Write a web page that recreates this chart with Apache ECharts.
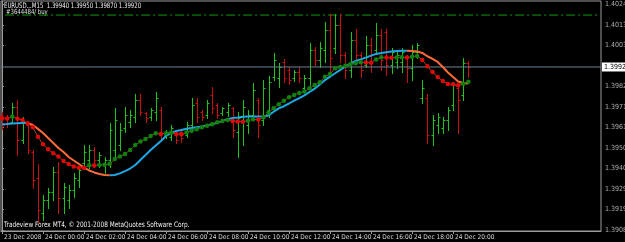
<!DOCTYPE html>
<html>
<head>
<meta charset="utf-8">
<script src="https://cdn.jsdelivr.net/npm/echarts@6/dist/echarts.min.js"></script>
<style>
html,body{margin:0;padding:0;background:#000;}
#chart{width:625px;height:242px;}
</style>
</head>
<body>
<div id="chart"></div>
<script>
// ---- data (EURUSD M15, 23 Dec 2008 22:00 .. 24 Dec 20:45) ----
const barOpen = [
1.39674,1.39659,1.39638,1.39715,1.39546,1.39623,1.39485,1.39352,1.39172,1.39239,
1.39280,1.39382,1.39249,1.39239,1.39290,1.39341,1.39428,1.39444,1.39495,1.39444,
1.39418,1.39444,1.39495,1.39521,1.39608,1.39638,1.39664,1.39751,1.39684,1.39664,
1.39690,1.39700,1.39572,1.39562,1.39582,1.39587,1.39572,1.39623,1.39736,1.39690,
1.39674,1.39777,1.39725,1.39684,1.39690,1.39710,1.39587,1.39649,1.39623,1.39674,
1.39751,1.39649,1.39700,1.39869,1.39864,1.39946,1.39905,1.39864,1.39894,1.39812,
1.39864,1.40007,1.39956,1.40007,1.40109,1.40017,1.40135,1.39981,1.39905,1.40058,
1.39981,1.39930,1.40033,1.40007,1.40084,1.40099,1.39930,1.39946,1.39946,1.39971,
1.39915,1.39997,1.39761,1.39761,1.39572,1.39623,1.39608,1.39649,1.39725,1.39812,
1.39777,1.39940];
const barHigh = [
1.39690,1.39674,1.39736,1.39751,1.39664,1.39638,1.39495,1.39423,1.39265,1.39300,
1.39408,1.39434,1.39326,1.39316,1.39377,1.39408,1.39521,1.39521,1.39510,1.39485,
1.39459,1.39633,1.39710,1.39633,1.39715,1.39700,1.39782,1.39782,1.39690,1.39710,
1.39792,1.39715,1.39597,1.39623,1.39587,1.39597,1.39638,1.39761,1.39761,1.39700,
1.39751,1.39818,1.39736,1.39715,1.39736,1.39715,1.39690,1.39751,1.39700,1.39838,
1.39761,1.39853,1.39874,1.39992,1.39940,1.39961,1.39920,1.39905,1.39920,1.39879,
1.40043,1.40022,1.40048,1.40150,1.40191,1.40191,1.40191,1.39997,1.40099,1.40115,
1.39997,1.40079,1.40068,1.40145,1.40115,1.40115,1.40017,1.39997,1.40017,1.39981,
1.40033,1.40043,1.39853,1.39782,1.39674,1.39684,1.39664,1.39715,1.39843,1.39828,
1.39966,1.39950];
const barLow = [
1.39603,1.39613,1.39633,1.39469,1.39531,1.39480,1.39300,1.39126,1.39137,1.39198,
1.39239,1.39172,1.39172,1.39198,1.39254,1.39306,1.39418,1.39403,1.39408,1.39408,
1.39377,1.39408,1.39444,1.39495,1.39587,1.39613,1.39638,1.39674,1.39638,1.39649,
1.39649,1.39556,1.39556,1.39546,1.39531,1.39536,1.39562,1.39597,1.39638,1.39649,
1.39659,1.39684,1.39659,1.39674,1.39669,1.39562,1.39459,1.39521,1.39582,1.39649,
1.39562,1.39623,1.39664,1.39853,1.39818,1.39843,1.39833,1.39848,1.39843,1.39792,
1.39828,1.39930,1.39920,1.39946,1.39889,1.39992,1.39946,1.39864,1.39869,1.39956,
1.39869,1.39920,1.39894,1.39992,1.39905,1.39879,1.39889,1.39915,1.39894,1.39843,
1.39853,1.39966,1.39736,1.39531,1.39521,1.39582,1.39582,1.39597,1.39700,1.39582,
1.39751,1.39870];
const barClose = [
1.39623,1.39633,1.39715,1.39546,1.39638,1.39495,1.39341,1.39188,1.39239,1.39280,
1.39382,1.39249,1.39306,1.39290,1.39352,1.39393,1.39485,1.39495,1.39444,1.39469,
1.39444,1.39597,1.39649,1.39597,1.39674,1.39674,1.39751,1.39690,1.39659,1.39700,
1.39761,1.39582,1.39587,1.39608,1.39546,1.39556,1.39623,1.39725,1.39664,1.39664,
1.39736,1.39710,1.39674,1.39710,1.39725,1.39597,1.39659,1.39715,1.39674,1.39802,
1.39623,1.39812,1.39843,1.39956,1.39920,1.39864,1.39853,1.39894,1.39864,1.39864,
1.40007,1.39956,1.40017,1.40109,1.39966,1.40135,1.39981,1.39905,1.40058,1.39981,
1.39905,1.40033,1.39946,1.40084,1.39956,1.39930,1.39997,1.39981,1.39997,1.39915,
1.39997,1.40033,1.39812,1.39572,1.39649,1.39664,1.39649,1.39700,1.39828,1.39751,
1.39940,1.39920];
// smooth trend line (cyan when rising, orange when falling)
const trendLine = [
1.39627,1.39628,1.39630,1.39632,1.39633,1.39633,1.39623,1.39603,1.39582,1.39556,
1.39531,1.39505,1.39485,1.39459,1.39441,1.39423,1.39405,1.39390,1.39380,1.39372,
1.39367,1.39365,1.39367,1.39375,1.39387,1.39400,1.39418,1.39444,1.39469,1.39495,
1.39518,1.39541,1.39567,1.39582,1.39592,1.39597,1.39604,1.39608,1.39612,1.39615,
1.39620,1.39627,1.39634,1.39644,1.39652,1.39659,1.39661,1.39665,1.39666,1.39666,
1.39666,1.39668,1.39672,1.39691,1.39708,1.39719,1.39733,1.39748,1.39761,1.39775,
1.39792,1.39809,1.39830,1.39853,1.39871,1.39888,1.39905,1.39923,1.39938,1.39951,
1.39959,1.39968,1.39978,1.39987,1.39992,1.39996,1.39999,1.40002,1.40003,1.40003,
1.40002,1.39999,1.39992,1.39975,1.39961,1.39946,1.39920,1.39892,1.39869,1.39846,
1.39838,1.39836];
// dotted signal line (green dot when rising, red when falling)
const signalLine = [
1.39657,1.39656,1.39666,1.39655,1.39649,1.39632,1.39611,1.39563,1.39524,1.39499,
1.39478,1.39461,1.39439,1.39423,1.39410,1.39404,1.39403,1.39417,1.39415,1.39418,
1.39419,1.39423,1.39449,1.39461,1.39475,1.39495,1.39521,1.39538,1.39551,1.39567,
1.39581,1.39577,1.39581,1.39584,1.39577,1.39575,1.39584,1.39594,1.39601,1.39611,
1.39619,1.39627,1.39637,1.39644,1.39649,1.39644,1.39641,1.39640,1.39645,1.39652,
1.39651,1.39662,1.39686,1.39709,1.39729,1.39747,1.39765,1.39777,1.39787,1.39794,
1.39811,1.39828,1.39842,1.39870,1.39884,1.39913,1.39920,1.39927,1.39934,1.39939,
1.39944,1.39943,1.39942,1.39959,1.39970,1.39968,1.39967,1.39969,1.39970,1.39968,
1.39973,1.39976,1.39956,1.39924,1.39894,1.39869,1.39848,1.39833,1.39831,1.39826,
1.39834,1.39845];
const timeTickIndex = [0,8,16,24,32,40,48,56,64,72,80,88];
const timeTickLabels = ['23 Dec 2008','24 Dec 00:00','24 Dec 02:00','24 Dec 04:00','24 Dec 06:00','24 Dec 08:00','24 Dec 10:00','24 Dec 12:00','24 Dec 14:00','24 Dec 16:00','24 Dec 18:00','24 Dec 20:00'];
const priceTicks = [1.39085,1.39190,1.39295,1.39400,1.39505,1.39610,1.39715,1.39820,1.40030,1.40135,1.40240];
const bidPrice = 1.39920;
const orderPrice = 1.40186;
const headerText = 'EURUSD...M15  1.39940 1.39950 1.39870 1.39920';
const orderText = '#3644484/ buy';
const footerText = 'Tradeview Forex MT4, \u00A9 2001-2008 MetaQuotes Software Corp.';

// ---- chart ----
const FONT = '"Liberation Sans Narrow", "DejaVu Sans Condensed", "Liberation Sans", sans-serif';
const bull = '#1cc41c', bear = '#c81010';
const cyan = '#1ea9e6', orange = '#ff6a3a';
const X_MIN = -0.2, X_MAX = 116.87;
const Y_MIN = 1.39080, Y_MAX = 1.40258;

// split trend line into rising / falling pieces
const upData = trendLine.map(() => null), downData = trendLine.map(() => null);
let prevUp = true;
for (let i = 0; i < trendLine.length - 1; i++) {
  const d = trendLine[i + 1] - trendLine[i];
  const up = d > 0 ? true : d < 0 ? false : prevUp;
  prevUp = up;
  const arr = up ? upData : downData;
  arr[i] = trendLine[i]; arr[i + 1] = trendLine[i + 1];
}
const upSeries = upData.map((v, i) => [i, v]);
const downSeries = downData.map((v, i) => [i, v]);

const chart = echarts.init(document.getElementById('chart'), null, {renderer: 'canvas'});
chart.setOption({
  animation: false,
  backgroundColor: '#000',
  textStyle: {fontFamily: FONT},
  grid: {left: 1, top: 1, width: 600, height: 230, show: true, borderColor: '#9c9c9c', borderWidth: 1, backgroundColor: '#000'},
  xAxis: {
    type: 'value', min: X_MIN, max: X_MAX,
    splitLine: {show: false},
    axisLine: {show: true, lineStyle: {color: '#9c9c9c'}},
    axisTick: {show: true, length: 3, lineStyle: {color: '#9c9c9c'}, customValues: timeTickIndex},
    axisLabel: {
      customValues: timeTickIndex, color: '#d8d8d8', fontSize: 6.5, fontFamily: FONT,
      align: 'left', margin: 3, padding: [0, 0, 0, 2], showMinLabel: true, showMaxLabel: true, hideOverlap: false,
      formatter: v => timeTickLabels[timeTickIndex.indexOf(Math.round(v))] || ''
    }
  },
  yAxis: {
    type: 'value', position: 'right', min: Y_MIN, max: Y_MAX,
    splitLine: {show: false},
    axisLine: {show: true, lineStyle: {color: '#9c9c9c'}},
    axisTick: {show: true, length: 2, lineStyle: {color: '#9c9c9c'}, customValues: priceTicks},
    axisLabel: {show: false}
  },
  graphic: [
    {type: 'text', x: 4, y: 2, scaleX: 0.8, style: {text: headerText, fill: '#f0f0f0', font: '7.5px ' + FONT}},
    {type: 'text', x: 6, y: 9, scaleX: 0.85, style: {text: orderText, fill: '#e0e0e0', font: '7px ' + FONT}},
    {type: 'text', x: 4, y: 221, scaleX: 0.86, style: {text: footerText, fill: '#f0f0f0', font: '7.5px ' + FONT}}
  ],
  series: [
    {
      // price scale labels, placed on the right axis through the y scale
      type: 'scatter', name: 'priceLabels', z: 1, silent: true, clip: false,
      data: priceTicks.map(v => [X_MAX, v]), symbolSize: 0,
      label: {show: true, position: 'right', distance: 4, color: '#d8d8d8', fontSize: 7, fontFamily: FONT,
        formatter: p => p.value[1].toFixed(5)}
    },
    {
      type: 'line', name: 'order', z: 1, data: [[0.6, orderPrice], [116.3, orderPrice]],
      showSymbol: false, lineStyle: {color: '#119a11', width: 1, type: [9, 3, 2, 3]}
    },
    {
      type: 'line', name: 'bid', z: 3, data: [[X_MIN, bidPrice], [X_MAX, bidPrice]],
      showSymbol: false, lineStyle: {color: '#6e8496', width: 1},
      endLabel: {show: true, distance: 1, formatter: () => bidPrice.toFixed(5),
        backgroundColor: '#ffffff', color: '#000', fontSize: 7, fontFamily: FONT, padding: [1, 3, 1, 2]}
    },
    {
      type: 'custom', name: 'bars', z: 2,
      data: barOpen.map((o, i) => [i, o, barHigh[i], barLow[i], barClose[i]]),
      encode: {x: 0, y: [1, 2, 3, 4]},
      renderItem: (params, api) => {
        const i = api.value(0);
        const o = api.value(1), h = api.value(2), l = api.value(3), c = api.value(4);
        const ph = api.coord([i, h]), pl = api.coord([i, l]);
        const po = api.coord([i, o]), pc = api.coord([i, c]);
        const x = Math.round(ph[0]) + 0.5;
        const col = c >= o ? bull : bear;
        const yo = Math.round(po[1]) + 0.5, yc = Math.round(pc[1]) + 0.5;
        const st = {stroke: col, lineWidth: 1};
        return {type: 'group', children: [
          {type: 'line', shape: {x1: x, y1: Math.round(ph[1]), x2: x, y2: Math.round(pl[1]) + 1}, style: st},
          {type: 'line', shape: {x1: x - 2, y1: yo, x2: x, y2: yo}, style: st},
          {type: 'line', shape: {x1: x, y1: yc, x2: x + 2, y2: yc}, style: st}
        ]};
      }
    },
    {
      type: 'line', name: 'trendUp', z: 4, data: upSeries, showSymbol: false, connectNulls: false,
      lineStyle: {color: cyan, width: 2}, itemStyle: {color: cyan}
    },
    {
      type: 'line', name: 'trendDown', z: 4, data: downSeries, showSymbol: false, connectNulls: false,
      lineStyle: {color: orange, width: 2}, itemStyle: {color: orange}
    },
    {
      type: 'line', name: 'signal', z: 5, data: signalLine.map((v, i) => [i, v]),
      symbol: 'circle', symbolSize: 4.5, showAllSymbol: true,
      lineStyle: {color: '#9a4a22', width: 1},
      itemStyle: {color: p => (p.dataIndex > 0 && signalLine[p.dataIndex] > signalLine[p.dataIndex - 1]) ? '#0d820d' : '#e00808'}
    }
  ]
});
</script>
</body>
</html>
